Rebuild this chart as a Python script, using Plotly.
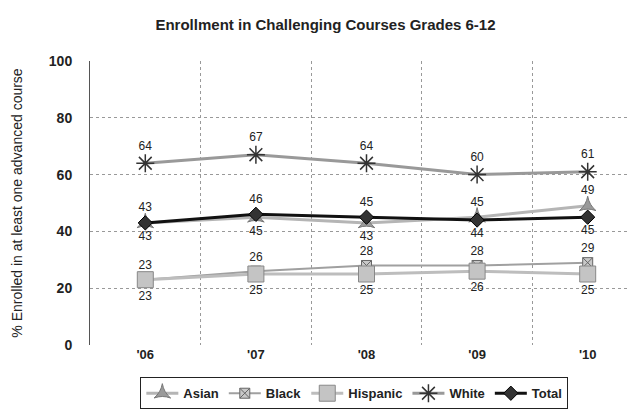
import plotly.graph_objects as go

years = ["'06", "'07", "'08", "'09", "'10"]
asian = [43, 45, 43, 45, 49]
black = [23, 26, 28, 28, 29]
hispanic = [23, 25, 25, 26, 25]
white = [64, 67, 64, 60, 61]
total = [43, 46, 45, 44, 45]

FONT = "Liberation Sans, Arial, sans-serif"


def positions(a, b):
    # put the label of the higher value above, the lower one below
    pa = ["top center" if x >= y else "bottom center" for x, y in zip(a, b)]
    pb = ["bottom center" if x >= y else "top center" for x, y in zip(a, b)]
    return pa, pb


asian_pos, total_pos = positions(asian, total)
black_pos, hisp_pos = positions(black, hispanic)
label_font = dict(size=12, color="#222", family=FONT)

fig = go.Figure()

fig.add_trace(go.Scatter(x=years, y=asian, name="Asian", mode="lines+markers+text",
                         line=dict(color="#b5b5b5", width=3),
                         marker=dict(symbol="star-triangle-up", size=12, color="#9a9a9a",
                                     line=dict(color="#777", width=1)),
                         text=asian, textposition=asian_pos, textfont=label_font))
fig.add_trace(go.Scatter(x=years, y=black, name="Black", mode="lines+markers+text",
                         line=dict(color="#a0a0a0", width=2),
                         marker=dict(symbol="square-x", size=10, color="#c8c8c8",
                                     line=dict(color="#666", width=1)),
                         text=black, textposition=black_pos, textfont=label_font))
fig.add_trace(go.Scatter(x=years, y=hispanic, name="Hispanic", mode="lines+markers+text",
                         line=dict(color="#bdbdbd", width=3),
                         marker=dict(symbol="square", size=16, color="#c4c4c4",
                                     line=dict(color="#888", width=1)),
                         text=hispanic, textposition=hisp_pos, textfont=label_font))
fig.add_trace(go.Scatter(x=years, y=white, name="White", mode="lines+markers+text",
                         line=dict(color="#999999", width=3),
                         marker=dict(symbol="asterisk-open", size=15, color="#333",
                                     line=dict(color="#333", width=1.5)),
                         text=white, textposition="top center", textfont=label_font))
fig.add_trace(go.Scatter(x=years, y=total, name="Total", mode="lines+markers+text",
                         line=dict(color="#111", width=3),
                         marker=dict(symbol="diamond", size=11, color="#333",
                                     line=dict(color="#000", width=1)),
                         text=total, textposition=total_pos, textfont=label_font))

fig.update_layout(
    width=635, height=410,
    margin=dict(l=82, r=0, t=53, b=73),
    paper_bgcolor="white", plot_bgcolor="white",
    font=dict(family=FONT, size=12, color="#222"),
    title=dict(text="<b>Enrollment in Challenging Courses Grades 6-12</b>",
               x=0.5, xanchor="center", y=0.958, yanchor="middle",
               font=dict(size=15, color="#222", family=FONT)),
    legend=dict(orientation="h", x=0.478, xanchor="center", y=-0.17, yanchor="middle",
                bordercolor="#222", borderwidth=1, bgcolor="white",
                font=dict(size=13, color="#222", family=FONT, weight="bold"),
                itemwidth=32, tracegroupgap=0),
    showlegend=True,
)

fig.update_xaxes(type="category", range=[-0.5, 4.5], tickson="boundaries",
                 showgrid=True, gridcolor="#999", griddash="dot", gridwidth=1,
                 showline=False, zeroline=False, ticks="",
                 tickfont=dict(size=13, color="#222", family=FONT, weight="bold"))
fig.update_yaxes(range=[0, 100], dtick=20, showgrid=True, gridcolor="#999",
                 griddash="dot", gridwidth=1, zeroline=False,
                 showline=True, linecolor="#555", linewidth=1, ticks="",
                 ticklabelstandoff=14,
                 tickfont=dict(size=14, color="#222", family=FONT, weight="bold"),
                 title=dict(text="% Enrolled in at least one advanced course",
                            font=dict(size=14, color="#222", family=FONT),
                            standoff=22))

fig.write_html("out.html")
